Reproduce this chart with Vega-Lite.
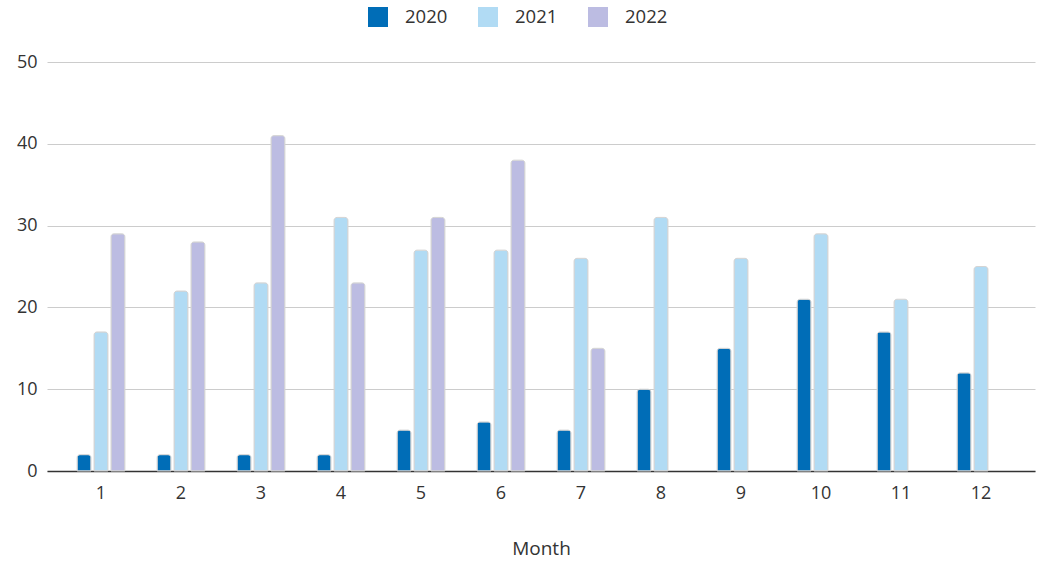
{
  "$schema": "https://vega.github.io/schema/vega-lite/v6.json",
  "width": 988,
  "height": 409,
  "autosize": "none",
  "padding": {"left": 47, "top": 62, "right": 15, "bottom": 92},
  "background": "white",
  "config": {
    "view": {"stroke": null},
    "font": "Open Sans"
  },
  "data": {
    "values": [
      {"Month": 1, "Year": "2020", "Value": 2},
      {"Month": 1, "Year": "2021", "Value": 17},
      {"Month": 1, "Year": "2022", "Value": 29},
      {"Month": 2, "Year": "2020", "Value": 2},
      {"Month": 2, "Year": "2021", "Value": 22},
      {"Month": 2, "Year": "2022", "Value": 28},
      {"Month": 3, "Year": "2020", "Value": 2},
      {"Month": 3, "Year": "2021", "Value": 23},
      {"Month": 3, "Year": "2022", "Value": 41},
      {"Month": 4, "Year": "2020", "Value": 2},
      {"Month": 4, "Year": "2021", "Value": 31},
      {"Month": 4, "Year": "2022", "Value": 23},
      {"Month": 5, "Year": "2020", "Value": 5},
      {"Month": 5, "Year": "2021", "Value": 27},
      {"Month": 5, "Year": "2022", "Value": 31},
      {"Month": 6, "Year": "2020", "Value": 6},
      {"Month": 6, "Year": "2021", "Value": 27},
      {"Month": 6, "Year": "2022", "Value": 38},
      {"Month": 7, "Year": "2020", "Value": 5},
      {"Month": 7, "Year": "2021", "Value": 26},
      {"Month": 7, "Year": "2022", "Value": 15},
      {"Month": 8, "Year": "2020", "Value": 10},
      {"Month": 8, "Year": "2021", "Value": 31},
      {"Month": 9, "Year": "2020", "Value": 15},
      {"Month": 9, "Year": "2021", "Value": 26},
      {"Month": 10, "Year": "2020", "Value": 21},
      {"Month": 10, "Year": "2021", "Value": 29},
      {"Month": 11, "Year": "2020", "Value": 17},
      {"Month": 11, "Year": "2021", "Value": 21},
      {"Month": 12, "Year": "2020", "Value": 12},
      {"Month": 12, "Year": "2021", "Value": 25}
    ]
  },
  "mark": {"type": "bar", "cornerRadiusTopLeft": 3, "cornerRadiusTopRight": 3, "stroke": "#d4d4d4", "strokeWidth": 1},
  "encoding": {
    "x": {
      "field": "Month",
      "type": "ordinal",
      "title": "Month",
      "scale": {"paddingInner": 0, "paddingOuter": 0.175},
      "axis": {
        "labelAngle": 0,
        "labelFontSize": 18,
        "labelColor": "#333333",
        "labelPadding": 13,
        "ticks": false,
        "domainColor": "#333333",
        "domainWidth": 1.5,
        "titleFontSize": 19,
        "titleFontWeight": "normal",
        "titleColor": "#333333",
        "titlePadding": 37
      }
    },
    "xOffset": {
      "field": "Year",
      "type": "nominal",
      "scale": {"domain": ["2020", "2021", "2022"], "paddingInner": 0.18, "paddingOuter": 0.95}
    },
    "y": {
      "field": "Value",
      "type": "quantitative",
      "title": null,
      "scale": {"domain": [0, 50]},
      "axis": {
        "values": [0, 10, 20, 30, 40, 50],
        "domain": false,
        "ticks": false,
        "labelFontSize": 18,
        "labelColor": "#333333",
        "labelPadding": 10,
        "gridColor": "#cccccc",
        "gridWidth": 1
      }
    },
    "color": {
      "field": "Year",
      "type": "nominal",
      "title": null,
      "scale": {"domain": ["2020", "2021", "2022"], "range": ["#006db7", "#b1dbf4", "#bcbce2"]},
      "legend": {
        "orient": "none",
        "direction": "horizontal",
        "legendX": 321,
        "legendY": -55,
        "symbolType": "square",
        "symbolSize": 400,
        "symbolStrokeWidth": 0,
        "labelFontSize": 18.5,
        "labelColor": "#333333",
        "labelOffset": 17,
        "columnPadding": 30
      }
    }
  }
}
